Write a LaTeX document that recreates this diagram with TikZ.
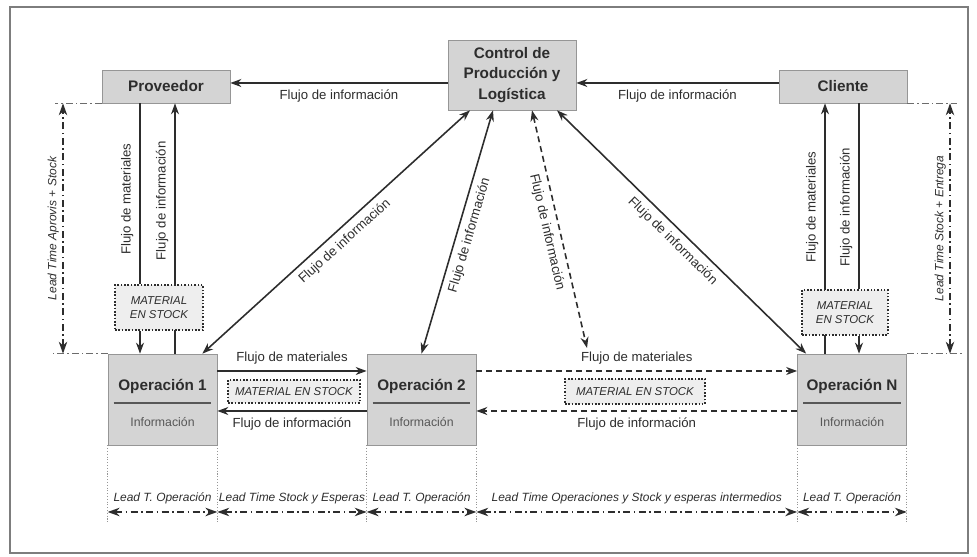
\documentclass[tikz,border=0pt]{standalone}
\usepackage{fontspec}
\setmainfont{Liberation Sans}
\usetikzlibrary{arrows.meta,positioning}
\definecolor{boxgray}{RGB}{212,212,212}
\definecolor{boxedge}{RGB}{150,150,150}
\definecolor{ink}{RGB}{45,45,45}
\definecolor{stockgray}{RGB}{238,238,238}
\definecolor{framegray}{RGB}{125,125,125}

\begin{document}
\begin{tikzpicture}[
  x=0.2mm, y=0.2mm,
  font=\fontsize{7.5}{9}\selectfont, text=ink,
  >={Stealth[length=2.2mm,width=1.6mm]},
  topbox/.style={rectangle, draw=boxedge, fill=boxgray, minimum width=2.56cm,
    minimum height=0.66cm, font=\fontsize{8.7}{11.5}\selectfont\bfseries, align=center, inner sep=1pt},
  opbox/.style={rectangle, draw=boxedge, fill=boxgray, minimum width=2.18cm, minimum height=1.82cm},
  optitle/.style={font=\fontsize{8.7}{10}\selectfont\bfseries, inner sep=1pt},
  opinfo/.style={font=\fontsize{7}{8}\selectfont, text=ink!80, inner sep=1pt},
  stock/.style={rectangle, draw=ink, densely dotted, line width=0.9pt, fill=stockgray,
    font=\fontsize{6.5}{8}\selectfont\itshape, align=center, inner sep=1pt},
  sep/.style={draw=ink!80, line width=1pt},
  flow/.style={draw=ink, line width=0.9pt},
  arr/.style={flow, ->},
  darr/.style={flow, <->},
  dashedarr/.style={arr, dash pattern=on 1.2mm off 0.8mm},
  ltarr/.style={draw=ink, line width=0.8pt, dash pattern=on 1.4mm off 0.7mm on 0.3mm off 0.7mm,
    arrows={Stealth[length=2.4mm,width=1.7mm]-Stealth[length=2.4mm,width=1.7mm]}},
  ltlabel/.style={font=\fontsize{6.8}{8}\selectfont\itshape, inner sep=2pt},
  guide/.style={draw=ink!70, line width=0.5pt, dash pattern=on 1.4mm off 0.6mm on 0.3mm off 0.6mm},
  extline/.style={draw=boxedge, line width=0.6pt, densely dotted}
]
\useasboundingbox (0,0) rectangle (977,557);
\draw[framegray, line width=1.2pt] (10,550) rectangle (968,4);

\node[topbox] (prov) at (166,470.5) {Proveedor};
\node[topbox, minimum height=1.4cm] (ctrl) at (512,482) {Control de\\Producción y\\Logística};
\node[topbox] (cli) at (843,470.5) {Cliente};

\node[opbox] (op1) at (162.5,157.5) {};
\node[opbox] (op2) at (421.5,157.5) {};
\node[opbox] (opN) at (852,157.5) {};

\node[optitle] (op1t) at ([yshift=-0.66cm]op1.north) {Operación 1};
\node[optitle] (op2t) at ([yshift=-0.66cm]op2.north) {Operación 2};
\node[optitle] (opNt) at ([yshift=-0.66cm]opN.north) {Operación N};
\draw[sep] ([xshift=0.12cm,yshift=-0.98cm]op1.north west) -- ([xshift=-0.12cm,yshift=-0.98cm]op1.north east);
\draw[sep] ([xshift=0.12cm,yshift=-0.98cm]op2.north west) -- ([xshift=-0.12cm,yshift=-0.98cm]op2.north east);
\draw[sep] ([xshift=0.12cm,yshift=-0.98cm]opN.north west) -- ([xshift=-0.12cm,yshift=-0.98cm]opN.north east);
\node[opinfo] (op1i) at ([yshift=-1.36cm]op1.north) {Información};
\node[opinfo] (op2i) at ([yshift=-1.36cm]op2.north) {Información};
\node[opinfo] (opNi) at ([yshift=-1.36cm]opN.north) {Información};

\draw[arr] ([yshift=-0.16cm]ctrl.west) -- ([yshift=-0.16cm]ctrl.west -| prov.east)
  node[midway, below] {Flujo de información};
\draw[arr] ([yshift=-0.16cm]ctrl.east -| cli.west) -- ([yshift=-0.16cm]ctrl.east)
  node[midway, below] {Flujo de información};

\coordinate (pm) at ([xshift=-0.52cm]prov.south);
\coordinate (pi) at ([xshift=0.18cm]prov.south);
\coordinate (cm) at ([xshift=-0.36cm]cli.south);
\coordinate (ci) at ([xshift=0.32cm]cli.south);
\draw[arr] (pi |- op1.north) -- (pi) node[pos=0.61, rotate=90, anchor=south] {Flujo de información};
\draw[arr] (cm |- opN.north) -- (cm) node[pos=0.585, rotate=90, anchor=south] {Flujo de materiales};

\node[stock, minimum width=1.76cm, minimum height=0.9cm] (stkp) at (159,249.5) {MATERIAL\\EN STOCK};
\node[stock, minimum width=1.72cm, minimum height=0.9cm] (stkc) at (845,244.5) {MATERIAL\\EN STOCK};
\node[stock, minimum width=2.64cm, minimum height=0.46cm] (stk12) at (294,165.5) {MATERIAL EN STOCK};
\node[stock, minimum width=2.8cm, minimum height=0.5cm] (stk2N) at (635,165.5) {MATERIAL EN STOCK};

\draw[flow] (pm) -- (pm |- stkp.north) node[pos=0.53, rotate=90, anchor=south] {Flujo de materiales};
\draw[arr] (pm |- stkp.south) -- (pm |- op1.north);
\draw[flow] (ci) -- (ci |- stkc.north) node[pos=0.56, rotate=90, anchor=south] {Flujo de información};
\draw[arr] (ci |- stkc.south) -- (ci |- opN.north);

\coordinate (m1) at ([yshift=0.57cm]op1.east);
\coordinate (i1) at ([yshift=-0.23cm]op1.east);
\draw[arr] (m1) -- (m1 -| op2.west) node[midway, above] {Flujo de materiales};
\draw[arr] (i1 -| op2.west) -- (i1) node[midway, below] {Flujo de información};
\draw[dashedarr] (m1 -| op2.east) -- (m1 -| opN.west) node[midway, above] {Flujo de materiales};
\draw[dashedarr] (i1 -| opN.west) -- (i1 -| op2.east) node[midway, below] {Flujo de información};

\coordinate (mfN) at (587,209);
\draw[darr] ([xshift=-0.3cm]op1.north east) -- ([xshift=-0.84cm]ctrl.south)
  node[midway, sloped, below] {Flujo de información};
\draw[darr] (op2.north) -- ([xshift=-0.38cm]ctrl.south)
  node[midway, sloped, below] {Flujo de información};
\draw[darr, dash pattern=on 1.2mm off 0.8mm] ([xshift=0.4cm]ctrl.south) -- (mfN)
  node[midway, sloped, below] {Flujo de información};
\draw[darr] ([xshift=0.9cm]ctrl.south) -- ([xshift=0.18cm]opN.north west)
  node[midway, sloped, below] {Flujo de información};

\coordinate (gl1) at (55,0);
\coordinate (gl2) at (50,0);
\coordinate (lta) at (63,0);
\coordinate (gr1) at (957,0);
\coordinate (gr2) at (962,0);
\coordinate (ltc) at (950,0);
\draw[guide] (prov.south west) -- (prov.south west -| gl1);
\draw[guide] (op1.north west) -- (op1.north west -| gl2);
\draw[guide] (cli.south east) -- (cli.south east -| gr1);
\draw[guide] (opN.north east) -- (opN.north east -| gr2);
\draw[ltarr] (lta |- op1.north) -- (lta |- prov.south)
  node[midway, rotate=90, anchor=south, ltlabel] {Lead Time Aprovis + Stock};
\draw[ltarr] (ltc |- opN.north) -- (ltc |- cli.south)
  node[midway, rotate=90, anchor=south, ltlabel] {Lead Time Stock + Entrega};

\coordinate (ext) at (0,35);
\coordinate (ltrow) at (0,45);
\draw[extline] (op1.south west) -- (op1.south west |- ext);
\draw[extline] (op1.south east) -- (op1.south east |- ext);
\draw[extline] (op2.south west) -- (op2.south west |- ext);
\draw[extline] (op2.south east) -- (op2.south east |- ext);
\draw[extline] (opN.south west) -- (opN.south west |- ext);
\draw[extline] (opN.south east) -- (opN.south east |- ext);
\draw[ltarr] (op1.south west |- ltrow) -- (op1.south east |- ltrow)
  node[midway, above, ltlabel, yshift=2pt] {Lead T. Operación};
\draw[ltarr] (op1.south east |- ltrow) -- (op2.south west |- ltrow)
  node[midway, above, ltlabel, yshift=2pt] {Lead Time Stock y Esperas};
\draw[ltarr] (op2.south west |- ltrow) -- (op2.south east |- ltrow)
  node[midway, above, ltlabel, yshift=2pt] {Lead T. Operación};
\draw[ltarr] (op2.south east |- ltrow) -- (opN.south west |- ltrow)
  node[midway, above, ltlabel, yshift=2pt] {Lead Time Operaciones y Stock y esperas intermedios};
\draw[ltarr] (opN.south west |- ltrow) -- (opN.south east |- ltrow)
  node[midway, above, ltlabel, yshift=2pt] {Lead T. Operación};
\end{tikzpicture}
\end{document}
